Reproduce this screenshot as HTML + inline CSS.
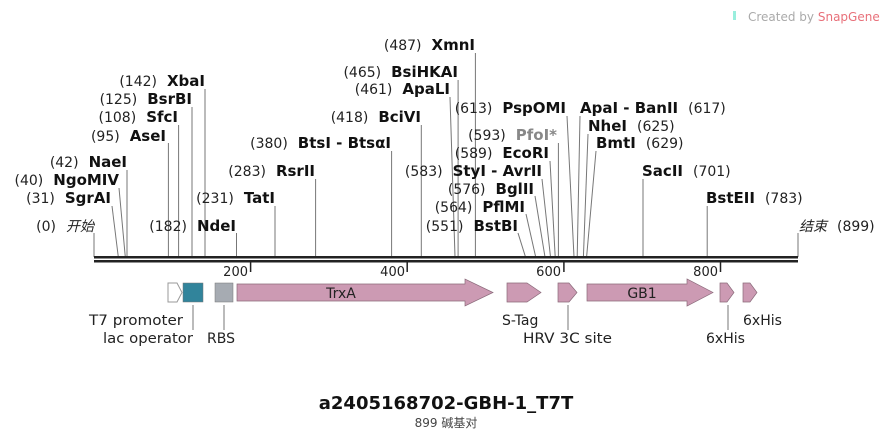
<!DOCTYPE html>
<html><head><meta charset="utf-8"><style>
html,body{margin:0;padding:0;background:#fff;}
svg{display:block;}
.n{font-family:"DejaVu Sans","Noto Sans CJK SC",sans-serif;font-size:14px;fill:#222;}
.b{font-weight:bold;font-size:15px;fill:#111;}
.g{fill:#888;}
.f{font-family:"DejaVu Sans",sans-serif;font-size:14px;fill:#222;}
line{stroke:#777;stroke-width:1;}
</style></head><body>
<svg width="893" height="439" viewBox="0 0 893 439" xmlns="http://www.w3.org/2000/svg">
<text x="748" y="21" font-family="DejaVu Sans,sans-serif" font-size="12" fill="#aaa">Created by <tspan fill="#e8707a">SnapGene</tspan></text>
<rect x="733" y="11" width="3" height="9" fill="#9ed"/>

<g class="n">
<text x="205" y="86" text-anchor="end">(142)<tspan class="b" dx="10">XbaI</tspan></text>
<line x1="205" y1="89" x2="205" y2="257"/>
<text x="192" y="104" text-anchor="end">(125)<tspan class="b" dx="10">BsrBI</tspan></text>
<line x1="192" y1="107" x2="192" y2="257"/>
<text x="178" y="122" text-anchor="end">(108)<tspan class="b" dx="10">SfcI</tspan></text>
<line x1="178.6" y1="125" x2="178.6" y2="257"/>
<text x="166" y="141" text-anchor="end">(95)<tspan class="b" dx="10">AseI</tspan></text>
<line x1="168.4" y1="143" x2="168.4" y2="257"/>
<text x="127" y="167" text-anchor="end">(42)<tspan class="b" dx="10">NaeI</tspan></text>
<line x1="127" y1="170" x2="127" y2="257"/>
<text x="119" y="185" text-anchor="end">(40)<tspan class="b" dx="10">NgoMIV</tspan></text>
<line x1="119" y1="188" x2="125.3" y2="257"/>
<text x="111" y="203" text-anchor="end">(31)<tspan class="b" dx="10">SgrAI</tspan></text>
<line x1="112" y1="206" x2="118.3" y2="257"/>
<text x="94" y="231" text-anchor="end">(0)<tspan font-style="italic" dx="10">开始</tspan></text>
<line x1="94" y1="233" x2="94" y2="257"/>
<text x="236" y="231" text-anchor="end">(182)<tspan class="b" dx="10">NdeI</tspan></text>
<line x1="236.5" y1="233" x2="236.5" y2="257"/>
<text x="275" y="203" text-anchor="end">(231)<tspan class="b" dx="10">TatI</tspan></text>
<line x1="275" y1="206" x2="275" y2="257"/>
<text x="315" y="176" text-anchor="end">(283)<tspan class="b" dx="10">RsrII</tspan></text>
<line x1="315.6" y1="179" x2="315.6" y2="257"/>
<text x="391" y="148" text-anchor="end">(380)<tspan class="b" dx="10">BtsI - BtsαI</tspan></text>
<line x1="391.6" y1="151" x2="391.6" y2="257"/>
<text x="421" y="122" text-anchor="end">(418)<tspan class="b" dx="10">BciVI</tspan></text>
<line x1="421.3" y1="125" x2="421.3" y2="257"/>
<text x="450" y="94" text-anchor="end">(461)<tspan class="b" dx="10">ApaLI</tspan></text>
<line x1="450" y1="97" x2="455" y2="257"/>
<text x="458" y="77" text-anchor="end">(465)<tspan class="b" dx="10">BsiHKAI</tspan></text>
<line x1="458.1" y1="80" x2="458.1" y2="257"/>
<text x="475" y="50" text-anchor="end">(487)<tspan class="b" dx="10">XmnI</tspan></text>
<line x1="475.4" y1="53" x2="475.4" y2="257"/>
<text x="542" y="176" text-anchor="end">(583)<tspan class="b" dx="10">StyI - AvrII</tspan></text>
<line x1="542" y1="179" x2="550.5" y2="257"/>
<text x="518" y="231" text-anchor="end">(551)<tspan class="b" dx="10">BstBI</tspan></text>
<line x1="518" y1="233" x2="525.5" y2="257"/>
<text x="525" y="212" text-anchor="end">(564)<tspan class="b" dx="10">PflMI</tspan></text>
<line x1="526" y1="214" x2="535.7" y2="257"/>
<text x="534" y="194" text-anchor="end">(576)<tspan class="b" dx="10">BglII</tspan></text>
<line x1="535" y1="196" x2="545" y2="257"/>
<text x="549" y="158" text-anchor="end">(589)<tspan class="b" dx="10">EcoRI</tspan></text>
<line x1="550" y1="161" x2="555.2" y2="257"/>
<text x="557" y="140" text-anchor="end">(593)<tspan class="b g" dx="10">PfoI*</tspan></text>
<line x1="558.4" y1="143" x2="558.4" y2="257"/>
<text x="566" y="113" text-anchor="end">(613)<tspan class="b" dx="10">PspOMI</tspan></text>
<line x1="567" y1="116" x2="574" y2="257"/>
<text x="580" y="113"><tspan class="b">ApaI - BanII</tspan><tspan dx="10">(617)</tspan></text>
<line x1="580" y1="116" x2="577.2" y2="257"/>
<text x="588" y="131"><tspan class="b">NheI</tspan><tspan dx="10">(625)</tspan></text>
<line x1="588" y1="134" x2="583.4" y2="257"/>
<text x="596" y="148"><tspan class="b">BmtI</tspan><tspan dx="10">(629)</tspan></text>
<line x1="596" y1="151" x2="586.6" y2="257"/>
<text x="642" y="176"><tspan class="b">SacII</tspan><tspan dx="10">(701)</tspan></text>
<line x1="643" y1="179" x2="643" y2="257"/>
<text x="706" y="203"><tspan class="b">BstEII</tspan><tspan dx="10">(783)</tspan></text>
<line x1="707.2" y1="206" x2="707.2" y2="257"/>
<text x="799" y="231"><tspan font-style="italic">结束</tspan><tspan dx="10">(899)</tspan></text>
<line x1="798" y1="233" x2="798" y2="257"/>
</g>

<rect x="94" y="256" width="704" height="2.5" fill="#222"/>
<rect x="94" y="260" width="704" height="2.5" fill="#222"/>
<g>
<line x1="250.6" y1="262" x2="250.6" y2="272" style="stroke:#222;stroke-width:1.5"/>
<line x1="407.2" y1="262" x2="407.2" y2="272" style="stroke:#222;stroke-width:1.5"/>
<line x1="563.9" y1="262" x2="563.9" y2="272" style="stroke:#222;stroke-width:1.5"/>
<line x1="720.5" y1="262" x2="720.5" y2="272" style="stroke:#222;stroke-width:1.5"/>
</g>
<g font-family="DejaVu Sans,sans-serif" font-size="13" fill="#222" text-anchor="end">
<text x="248" y="276">200</text><text x="405" y="276">400</text>
<text x="561" y="276">600</text><text x="718" y="276">800</text>
</g>

<polygon points="168,283 177,283 182,292.5 177,302 168,302" fill="#fff" stroke="#999"/>
<rect x="183" y="283" width="20" height="19" fill="#31849b" stroke="#777" stroke-width="0.5"/>
<rect x="215" y="283" width="18" height="19" fill="#a6abb2" stroke="#777" stroke-width="0.5"/>
<g fill="#cc9ab3" stroke="#8a6a7a" stroke-width="0.7">
<polygon points="237,284 465,284 465,279 493,292.5 465,306 465,301 237,301"/>
<polygon points="507,283 527,283 541,292.5 527,302 507,302"/>
<polygon points="558,283 569,283 577,292.5 569,302 558,302"/>
<polygon points="587,284 687,284 687,279 713,292.5 687,306 687,301 587,301"/>
<polygon points="720,283 727,283 734,292.5 727,302 720,302"/>
<polygon points="743,283 750,283 757,292.5 750,302 743,302"/>
</g>
<text x="341" y="298" class="f" text-anchor="middle">TrxA</text>
<text x="642" y="298" class="f" text-anchor="middle">GB1</text>
<g>
<line x1="193" y1="305" x2="193" y2="330"/>
<line x1="224" y1="305" x2="224" y2="330"/>
<line x1="568" y1="305" x2="568" y2="330"/>
<line x1="728" y1="305" x2="728" y2="330"/>
</g>
<g class="f">
<text x="89" y="325" textLength="94" lengthAdjust="spacingAndGlyphs">T7 promoter</text>
<text x="103" y="343" textLength="90" lengthAdjust="spacingAndGlyphs">lac operator</text>
<text x="207" y="343">RBS</text>
<text x="502" y="325">S-Tag</text>
<text x="523" y="343" textLength="89" lengthAdjust="spacingAndGlyphs">HRV 3C site</text>
<text x="706" y="343">6xHis</text>
<text x="743" y="325">6xHis</text>
</g>

<text x="446" y="409" text-anchor="middle" font-family="DejaVu Sans,sans-serif" font-weight="bold" font-size="18" fill="#111">a2405168702-GBH-1_T7T</text>
<text x="446" y="427" text-anchor="middle" font-family="DejaVu Sans,'Noto Sans CJK SC',sans-serif" font-size="12" fill="#444">899 碱基对</text>
</svg>
</body></html>
